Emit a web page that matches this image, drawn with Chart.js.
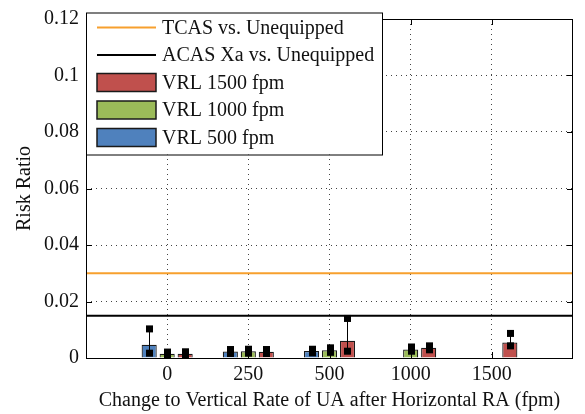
<!DOCTYPE html>
<html>
<head>
<meta charset="utf-8">
<script src="https://cdn.jsdelivr.net/npm/chart.js@4.4.1/dist/chart.umd.min.js"></script>
<style>
  html, body { margin: 0; padding: 0; background: #fff; }
  canvas { display: block; }
</style>
</head>
<body>
<canvas id="chart" width="585" height="414"></canvas>
<script>
// Change to vertical rate of the unequipped aircraft after a horizontal RA (fpm)
const categories = ['', '0', '250', '500', '1000', '1500', ''];

// Risk ratio per vertical-rate limit, with lower / upper error bounds
const vrl500     = [null, 0.0047, 0.0023, 0.0025, null,   null,   null];
const vrl500Low  = [null, 0.0017, 0.0016, 0.0018, null,   null,   null];
const vrl500High = [null, 0.0103, 0.0030, 0.0031, null,   null,   null];

const vrl1000     = [null, 0.0015, 0.0024, 0.0027, 0.0030, null,   null];
const vrl1000Low  = [null, 0.0010, 0.0017, 0.0020, 0.0024, null,   null];
const vrl1000High = [null, 0.0021, 0.0031, 0.0036, 0.0039, null,   null];

const vrl1500     = [null, 0.0015, 0.0022, 0.0061, 0.0036, 0.0055, null];
const vrl1500Low  = [null, 0.0010, 0.0016, 0.0024, 0.0029, 0.0043, null];
const vrl1500High = [null, 0.0022, 0.0030, 0.0140, 0.0043, 0.0087, null];

// Reference risk ratios
const tcasRatio = 0.03;
const acasRatio = 0.015;

const yTicks = [0, 0.02, 0.04, 0.06, 0.08, 0.1, 0.12];
const yTickLabels = ['0', '0.02', '0.04', '0.06', '0.08', '0.1', '0.12'];

const SERIF = '"Liberation Serif", "Times New Roman", Times, serif';
const FONT = { family: SERIF, size: 20 };
Chart.defaults.font.family = SERIF;
Chart.defaults.font.size = 20;
Chart.defaults.color = '#111';

const COLORS = {
  tcas: '#f7a02e',
  acas: '#000000',
  v1500: '#c0504d',
  v1000: '#9bbb59',
  v500: '#4f81bd'
};

function barSet(label, data, low, high, color) {
  return {
    type: 'bar',
    label: label,
    data: data,
    errLow: low,
    errHigh: high,
    backgroundColor: color,
    borderColor: '#1a1a1a',
    borderWidth: 1.2,
    categoryPercentage: 0.665,
    barPercentage: 0.84
  };
}

function refLine(label, value, color) {
  return {
    type: 'line',
    label: label,
    data: categories.map(() => value),
    borderColor: color,
    backgroundColor: color,
    borderWidth: 2,
    pointRadius: 0,
    tension: 0,
    order: -1
  };
}

// Asymmetric error bars with square end markers
const errorBars = {
  id: 'errorBars',
  afterDatasetsDraw(chart) {
    const ctx = chart.ctx;
    const y = chart.scales.y;
    chart.data.datasets.forEach((ds, di) => {
      if (!ds.errLow) return;
      const meta = chart.getDatasetMeta(di);
      meta.data.forEach((el, i) => {
        if (ds.data[i] == null) return;
        const x = Math.round(el.x) + 0.5;
        const yl = y.getPixelForValue(ds.errLow[i]);
        const yh = y.getPixelForValue(ds.errHigh[i]);
        ctx.save();
        ctx.strokeStyle = '#000';
        ctx.lineWidth = 1;
        ctx.beginPath();
        ctx.moveTo(x, yl);
        ctx.lineTo(x, yh);
        ctx.stroke();
        ctx.fillStyle = '#000';
        const s = 7;
        ctx.fillRect(x - s / 2, yl - s / 2, s, s);
        ctx.fillRect(x - s / 2, yh - s / 2, s, s);
        ctx.restore();
      });
    });
  }
};

// Axes box with inward tick marks on all four sides
const axesBox = {
  id: 'axesBox',
  afterDatasetsDraw(chart) {
    const { ctx, chartArea: a, scales } = chart;
    const tl = 6;
    ctx.save();
    ctx.strokeStyle = '#000';
    ctx.lineWidth = 1;
    ctx.strokeRect(a.left + 0.5, a.top + 0.5, a.right - a.left - 1, a.bottom - a.top);
    ctx.beginPath();
    yTicks.forEach(v => {
      const py = Math.round(scales.y.getPixelForValue(v)) + 0.5;
      ctx.moveTo(a.left, py); ctx.lineTo(a.left + tl, py);
      ctx.moveTo(a.right, py); ctx.lineTo(a.right - tl, py);
    });
    categories.forEach((c, i) => {
      if (!c) return;
      const px = Math.round(scales.x.getPixelForValue(i)) + 0.5;
      ctx.moveTo(px, a.bottom); ctx.lineTo(px, a.bottom - tl);
      ctx.moveTo(px, a.top); ctx.lineTo(px, a.top + tl);
    });
    ctx.stroke();
    ctx.restore();
  }
};

// Boxed legend in the upper-left corner of the axes
const boxLegend = {
  id: 'boxLegend',
  afterDraw(chart) {
    const ctx = chart.ctx;
    const a = chart.chartArea;
    const order = [3, 4, 2, 1, 0];
    const box = { x: a.left, y: 12.5, w: 296, h: 142 };
    ctx.save();
    ctx.fillStyle = '#fff';
    ctx.fillRect(box.x, box.y, box.w, box.h);
    ctx.strokeStyle = '#000';
    ctx.lineWidth = 1;
    ctx.strokeRect(box.x + 0.5, box.y + 0.5, box.w, box.h);
    ctx.font = '20px ' + SERIF;
    ctx.textBaseline = 'middle';
    ctx.textAlign = 'left';
    order.forEach((di, k) => {
      const ds = chart.data.datasets[di];
      const cy = 27.5 + k * 27.5;
      const sx = box.x + 11, sw = 59;
      if (ds.type === 'line') {
        ctx.strokeStyle = ds.borderColor;
        ctx.lineWidth = 2;
        ctx.beginPath();
        ctx.moveTo(sx, cy);
        ctx.lineTo(sx + sw, cy);
        ctx.stroke();
      } else {
        ctx.fillStyle = ds.backgroundColor;
        ctx.fillRect(sx, cy - 9, sw, 18);
        ctx.strokeStyle = '#1a1a1a';
        ctx.lineWidth = 1.5;
        ctx.strokeRect(sx, cy - 9, sw, 18);
      }
      ctx.fillStyle = '#111';
      ctx.fillText(ds.label, box.x + 76, cy + 1);
    });
    ctx.restore();
  }
};

const gridColor = '#444';

new Chart(document.getElementById('chart'), {
  data: {
    labels: categories,
    datasets: [
      barSet('VRL 500 fpm', vrl500, vrl500Low, vrl500High, COLORS.v500),
      barSet('VRL 1000 fpm', vrl1000, vrl1000Low, vrl1000High, COLORS.v1000),
      barSet('VRL 1500 fpm', vrl1500, vrl1500Low, vrl1500High, COLORS.v1500),
      refLine('TCAS vs. Unequipped', tcasRatio, COLORS.tcas),
      refLine('ACAS Xa vs. Unequipped', acasRatio, COLORS.acas)
    ]
  },
  options: {
    responsive: false,
    animation: false,
    events: [],
    layout: { padding: { top: 15, right: 12, left: 0, bottom: 0 } },
    plugins: {
      legend: { display: false },
      tooltip: { enabled: false }
    },
    scales: {
      x: {
        type: 'category',
        offset: false,
        grid: {
          offset: false,
          drawTicks: false,
          lineWidth: 1,
          color: c => (c.index === 0 || c.index === categories.length - 1) ? 'rgba(0,0,0,0)' : gridColor
        },
        border: { display: false, dash: [1, 4] },
        ticks: { autoSkip: false, maxRotation: 0, padding: 5, color: '#111', font: FONT },
        title: {
          display: true,
          text: 'Change to Vertical Rate of UA after Horizontal RA (fpm)',
          color: '#111',
          font: FONT,
          padding: { top: 0, bottom: 1 }
        },
        afterFit(scale) { scale.height = 56; }
      },
      y: {
        type: 'linear',
        min: 0,
        max: 0.12,
        grid: {
          drawTicks: false,
          lineWidth: 1,
          color: c => (c.index === 0 || c.index === yTicks.length - 1) ? 'rgba(0,0,0,0)' : gridColor
        },
        border: { display: false, dash: [1, 4] },
        afterBuildTicks(scale) { scale.ticks = yTicks.map(v => ({ value: v })); },
        ticks: {
          padding: 7,
          color: '#111',
          font: FONT,
          callback: (v, i) => yTickLabels[i]
        },
        title: {
          display: true,
          text: 'Risk Ratio',
          color: '#111',
          font: FONT,
          padding: { top: 13, bottom: 0 }
        },
        afterFit(scale) { scale.width = 86; }
      }
    }
  },
  plugins: [errorBars, axesBox, boxLegend]
});
</script>
</body>
</html>
